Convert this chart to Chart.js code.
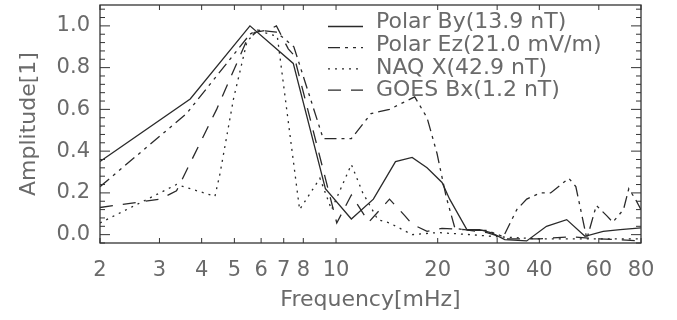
<!DOCTYPE html>
<html>
<head>
<meta charset="utf-8">
<script src="https://cdn.jsdelivr.net/npm/chart.js@4.4.0/dist/chart.umd.min.js"></script>
<style>
  html, body { margin: 0; padding: 0; background: #fff; }
  #wrap { width: 677px; height: 320px; }
</style>
</head>
<body>
<div id="wrap"><canvas id="specChart"></canvas></div>
<script>
// values: frequency in mHz, normalised amplitude
const byFreq = [2, 3.7, 5.56, 7.47, 9.3, 11.1, 12.9, 15.0, 16.8, 18.6, 20.6, 21.7, 24.4, 26.6, 28.9, 31.6, 36.7, 42, 48.2, 54.6, 61.8, 69.4, 80];
const byAmp = [0.35, 0.65, 1.0, 0.82, 0.22, 0.075, 0.17, 0.35, 0.37, 0.32, 0.25, 0.17, 0.024, 0.024, 0.008, -0.024, -0.03, 0.04, 0.072, -0.008, 0.016, 0.024, 0.032];

const ezFreq = [2, 3.61, 5.56, 5.85, 6.66, 7.5, 9.16, 11.1, 12.7, 14.4, 17.1, 18.6, 19.9, 21.2, 22.5, 25, 28, 31.3, 34.3, 36.7, 40.2, 43.2, 48.9, 51.3, 55.3, 59, 63.4, 66, 71, 73.6, 77, 80];
const ezAmp = [0.23, 0.58, 0.96, 0.98, 0.97, 0.9, 0.46, 0.46, 0.58, 0.6, 0.66, 0.56, 0.39, 0.18, 0.03, 0.02, 0.02, -0.01, 0.12, 0.17, 0.2, 0.2, 0.27, 0.23, -0.02, 0.14, 0.09, 0.06, 0.12, 0.22, 0.17, 0.12];

const naqFreq = [2, 3.37, 4.38, 4.53, 4.97, 5.44, 5.8, 6.7, 7.8, 8.96, 9.7, 11.1, 12.0, 13.3, 14.4, 16.8, 20, 25, 30, 40, 50, 60, 80];
const naqAmp = [0.056, 0.24, 0.184, 0.29, 0.65, 0.92, 0.98, 0.95, 0.12, 0.27, 0.12, 0.336, 0.2, 0.072, 0.056, 0.0, 0.01, 0.0, -0.01, -0.02, -0.02, -0.02, -0.02];

const goesFreq = [2, 3.01, 3.37, 4.43, 5.44, 5.8, 6.3, 6.66, 7.22, 7.5, 10.05, 11.1, 12.5, 14.4, 16.0, 16.8, 18.6, 20.6, 24, 28, 32, 40, 50, 60, 80];
const goesAmp = [0.13, 0.17, 0.21, 0.6, 0.93, 0.97, 0.98, 1.0, 0.89, 0.86, 0.056, 0.19, 0.06, 0.17, 0.09, 0.05, 0.016, 0.03, 0.024, 0.01, -0.02, -0.02, -0.01, -0.02, -0.03];

const seriesLabels = ["Polar By(13.9 nT)", "Polar Ez(21.0 mV/m)", "NAQ X(42.9 nT)", "GOES Bx(1.2 nT)"];
const seriesDash = [[], [12, 5, 3, 5, 3, 5], [2, 5], [13, 10]];

const xTickValues = [2, 3, 4, 5, 6, 7, 8, 10, 20, 30, 40, 60, 80];
const yTickValues = [0, 0.2, 0.4, 0.6, 0.8, 1.0];

const textColor = "#6a6a6a";
const lineColor = "#2a2a2a";
const fontFamily = "'DejaVu Sans', sans-serif";

function toPoints(xs, ys) {
    return xs.map((x, i) => ({ x: x, y: ys[i] }));
}

const seriesData = [
    toPoints(byFreq, byAmp),
    toPoints(ezFreq, ezAmp),
    toPoints(naqFreq, naqAmp),
    toPoints(goesFreq, goesAmp)
];

// IDL style frame: box, inward ticks on all four sides, legend in the plot
const idlFrame = {
    id: "idlFrame",
    afterDraw(chart) {
        const ctx = chart.ctx;
        const a = chart.chartArea;
        const xs = chart.scales.x;
        const ys = chart.scales.y;
        ctx.save();
        ctx.strokeStyle = "#333";
        ctx.lineWidth = 1.3;
        ctx.setLineDash([]);
        ctx.strokeRect(a.left, a.top, a.right - a.left, a.bottom - a.top);

        ctx.lineWidth = 1;
        ctx.beginPath();
        xTickValues.forEach(v => {
            const px = xs.getPixelForValue(v);
            ctx.moveTo(px, a.bottom); ctx.lineTo(px, a.bottom - 5);
            ctx.moveTo(px, a.top); ctx.lineTo(px, a.top + 5);
        });
        for (let i = -1; i <= 27; i++) {
            const v = i * 0.04;
            if (v < ys.min || v > ys.max) continue;
            const py = ys.getPixelForValue(v);
            const len = (i % 5 === 0) ? 10 : 5;
            ctx.moveTo(a.left, py); ctx.lineTo(a.left + len, py);
            ctx.moveTo(a.right, py); ctx.lineTo(a.right - len, py);
        }
        ctx.stroke();

        // legend
        ctx.font = "22px " + fontFamily;
        ctx.textBaseline = "alphabetic";
        ctx.textAlign = "left";
        const x0 = a.right - 313;
        seriesLabels.forEach((label, i) => {
            const base = 28 + i * 22.8;
            const lineY = 26.5 + i * 21.2;
            ctx.strokeStyle = lineColor;
            ctx.lineWidth = 1.3;
            ctx.setLineDash(seriesDash[i]);
            ctx.beginPath();
            ctx.moveTo(x0, lineY);
            ctx.lineTo(x0 + 35, lineY);
            ctx.stroke();
            ctx.setLineDash([]);
            ctx.fillStyle = textColor;
            ctx.fillText(label, x0 + 48, base);
        });
        ctx.restore();
    }
};

const ctx = document.getElementById("specChart").getContext("2d");

const chart = new Chart(ctx, {
    type: "line",
    data: {
        datasets: seriesData.map((pts, i) => ({
            label: seriesLabels[i],
            data: pts,
            borderColor: lineColor,
            borderWidth: 1.3,
            borderDash: seriesDash[i],
            pointRadius: 0,
            tension: 0,
            fill: false
        }))
    },
    options: {
        responsive: true,
        maintainAspectRatio: false,
        animation: false,
        layout: { padding: { top: 5, right: 36, left: 0, bottom: 0 } },
        plugins: {
            legend: { display: false },
            tooltip: { enabled: false }
        },
        scales: {
            x: {
                type: "logarithmic",
                min: 2,
                max: 80,
                afterBuildTicks: s => { s.ticks = xTickValues.map(v => ({ value: v })); },
                afterFit: s => { s.height = 77; s.paddingLeft = 0; s.paddingRight = 0; },
                grid: { display: false, drawTicks: false },
                border: { display: false },
                ticks: {
                    autoSkip: false,
                    maxRotation: 0,
                    padding: 15,
                    color: textColor,
                    font: { family: fontFamily, size: 21 },
                    callback: v => String(v)
                },
                title: {
                    display: true,
                    text: "Frequency[mHz]",
                    color: textColor,
                    font: { family: fontFamily, size: 22 },
                    padding: { top: 0, bottom: 7 }
                }
            },
            y: {
                min: -0.04,
                max: 1.1,
                afterBuildTicks: s => { s.ticks = yTickValues.map(v => ({ value: v })); },
                afterFit: s => { s.width = 100; s.paddingTop = 0; s.paddingBottom = 0; },
                grid: { display: false, drawTicks: false },
                border: { display: false },
                ticks: {
                    padding: 10,
                    color: textColor,
                    font: { family: fontFamily, size: 21 },
                    callback: v => Number(v).toFixed(1)
                },
                title: {
                    display: true,
                    text: "Amplitude[1]",
                    color: textColor,
                    font: { family: fontFamily, size: 22 },
                    padding: { top: 16, bottom: 0 }
                }
            }
        }
    },
    plugins: [idlFrame]
});
</script>
</body>
</html>
